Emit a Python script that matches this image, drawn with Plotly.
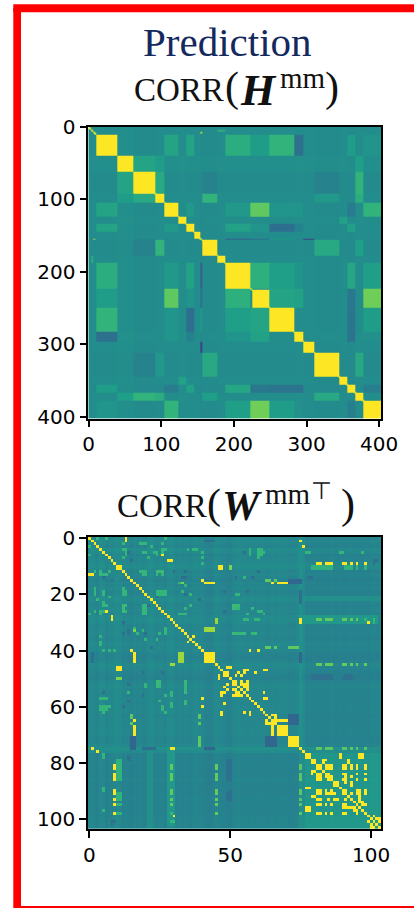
import numpy as np
import plotly.graph_objects as go

# ---------- Top panel: CORR(H^mm), block structure
H_SIZE = 403
H_BOUNDS = [0, 10, 40, 62, 92, 104, 124, 134, 145, 154, 156, 177, 188, 223, 249, 283, 296, 311, 345, 356, 367, 378, 403]
H_OFFSET = [0.0, 0.0, 0.01, -0.005, 0.0, 0.0, 0.005, 0.0, 0.0, -0.01, -0.005, 0.0, 0.0, 0.0, 0.0, 0.005, 0.0, -0.005, 0.0, -0.005, 0.005, 0.0]
H_PAIR_A = [1, 1, 1, 1, 1, 1, 1, 1,
            2, 2, 2,
            3, 3, 3, 3,
            4, 4, 4,
            5, 5, 5, 5, 5, 5, 5,
            6,
            7, 7, 7, 7, 7,
            9, 9, 9, 9,
            10, 10,
            12, 12, 12, 12, 12, 12,
            13, 13, 13, 13, 13,
            14, 14, 14,
            15, 15, 15,
            17,
            19, 19, 19, 19]
H_PAIR_B = [5, 7, 12, 13, 14, 15, 19, 21,
            3, 4, 20,
            4, 10, 17, 20,
            10, 17, 20,
            7, 12, 13, 14, 15, 19, 21,
            18,
            12, 13, 14, 15, 19,
            12, 13, 14, 16,
            17, 20,
            13, 14, 15, 19, 21, 7,
            14, 15, 19, 21, 7,
            19, 21, 7,
            19, 21, 7,
            20,
            21, 5, 13, 14]
H_PAIR_V = [0.58, 0.58, 0.62, 0.55, 0.65, 0.37, 0.55, 0.52,
            0.58, 0.55, 0.56,
            0.60, 0.45, 0.45, 0.65,
            0.65, 0.53, 0.62,
            0.53, 0.53, 0.75, 0.52, 0.52, 0.42, 0.65,
            0.57,
            0.56, 0.52, 0.37, 0.43, 0.57,
            0.30, 0.37, 0.53, 0.20,
            0.60, 0.56,
            0.63, 0.56, 0.52, 0.59, 0.56, 0.57,
            0.58, 0.57, 0.39, 0.78, 0.52,
            0.39, 0.55, 0.36,
            0.38, 0.50, 0.44,
            0.60,
            0.43, 0.42, 0.40, 0.39]
H_YELLOW_START = [10, 40, 62, 92, 104, 124, 134, 145, 156, 177, 188, 225, 249, 283, 296, 311, 345, 356, 367, 378]
H_YELLOW_END = [40, 62, 92, 104, 124, 134, 145, 154, 177, 188, 223, 249, 283, 296, 311, 345, 356, 367, 378, 403]
H_THIN_ROW = [4, 7, 154, 223]
H_THIN_ROW_END = [6, 9, 156, 225]
H_THIN_COL = [177, 154, 7, 241]
H_THIN_COL_END = [188, 156, 9, 244]
H_THIN_V = [0.62, 0.85, 0.85, 0.5]

# ---------- Bottom panel: CORR(W^mm T), rectangles and single cells
W_SIZE = 104
W_STRIPE = [0.0, 0.01, 0.0, -0.01, 0.02, 0.01, -0.01, 0.0, 0.0, 0.01, 0.02, 0.01, -0.01, 0.0, -0.01, -0.02, 0.0, -0.01, 0.0, -0.015,
            -0.01, 0.01, 0.015, 0.0, -0.01, 0.0, 0.0, -0.01, 0.01, 0.015, 0.005, -0.01, 0.0, -0.005, 0.0, -0.01, -0.01, 0.0, 0.005, 0.0,
            0.0, -0.015, -0.02, -0.02, -0.01, 0.01, 0.0, -0.005, -0.01, -0.02, -0.02, -0.005, 0.0, 0.01, 0.0, 0.0, -0.005, 0.0, 0.0, -0.005,
            0.0, 0.0, 0.0, -0.01, -0.005, 0.0, -0.005, 0.0, 0.0, 0.0, 0.0, -0.01, -0.01, -0.005, 0.0, 0.03, 0.015, 0.0, 0.0, 0.0,
            0.005, 0.0, 0.0, 0.0, 0.005, 0.0, 0.01, 0.0, 0.0, 0.005, 0.0, 0.0, 0.005, 0.005, 0.0, 0.005, 0.0, 0.0, 0.005, 0.0, 0.01, 0.01, 0.01, 0.01]
W_R0 = [0, 77, 21, 75,
        10, 41, 67, 71, 77, 87, 79, 81,
        15, 16, 32, 10, 10, 8, 6, 0, 13, 16, 29,
        10, 10, 10, 10, 29, 29, 28,
        15, 15, 15, 16, 16, 39, 39, 39, 1, 3,
        63, 65, 66, 65, 65, 71, 71, 71,
        79, 90, 49, 49, 1, 75, 75, 75, 75,
        77, 89, 96, 77, 93, 96,
        5, 20, 24, 34, 34, 4, 19, 19, 12, 13, 24, 26, 27, 34,
        77, 89]
W_R1 = [75, 104, 23, 76,
        12, 45, 71, 75, 79, 89, 81, 83,
        16, 17, 34, 12, 12, 9, 7, 1, 14, 17, 31,
        12, 12, 12, 12, 30, 30, 31,
        16, 16, 16, 17, 17, 40, 40, 40, 2, 4,
        65, 66, 67, 71, 66, 75, 75, 75,
        86, 94, 51, 51, 2, 76, 76, 76, 76,
        79, 90, 97, 79, 94, 97,
        6, 21, 26, 35, 35, 7, 21, 21, 13, 14, 26, 27, 28, 35,
        79, 90]
W_C0 = [77, 77, 75, 0,
        10, 41, 67, 71, 77, 87, 79, 81,
        40, 41, 41, 46, 50, 28, 26, 13, 0, 32, 45,
        79, 91, 95, 98, 100, 102, 75,
        63, 66, 71, 65, 67, 63, 66, 71, 75, 76,
        71, 71, 71, 65, 67, 63, 66, 15,
        50, 50, 79, 91, 41, 15, 19, 41, 29,
        89, 77, 77, 97, 87, 90,
        77, 52, 51, 51, 58, 60, 24, 12, 24, 19, 19, 19, 32, 55,
        5, 5]
W_C1 = [104, 104, 104, 104,
        12, 45, 71, 75, 79, 89, 81, 83,
        41, 45, 45, 48, 51, 30, 27, 14, 2, 34, 46,
        87, 94, 96, 99, 101, 103, 103,
        65, 67, 74, 66, 71, 65, 67, 75, 76, 77,
        75, 75, 75, 66, 71, 65, 67, 17,
        51, 51, 87, 94, 45, 17, 24, 45, 31,
        90, 79, 79, 98, 89, 94,
        79, 54, 54, 54, 60, 62, 28, 14, 27, 21, 21, 21, 34, 56,
        6, 6]
W_RV = [0.45, 0.52, 0.50, 0.50,
        1, 1, 1, 1, 1, 1, 1, 1,
        1, 1, 0.85, 1, 0.8, 1, 1, 1, 1, 0.8, 0.85,
        0.64, 0.64, 0.64, 0.64, 1, 0.75, 0.53,
        0.75, 0.75, 0.75, 1, 1, 0.75, 0.75, 0.75, 1, 1,
        0.33, 0.33, 0.33, 1, 1, 0.33, 0.33, 0.33,
        0.37, 0.37, 0.37, 0.37, 0.33, 0.33, 0.36, 0.33, 1,
        1, 1, 1, 1, 1, 1,
        0.66, 0.66, 0.68, 0.68, 0.68, 0.66, 0.66, 0.68, 0.68, 0.66, 0.66, 0.66, 0.66, 0.68, 0.68,
        0.65, 0.65]

# lattice of bright cells in the lower-right part and the rows that echo it
W_GROUP = [81, 82, 84, 85, 86, 90, 91, 93, 95, 98]
W_GAP_A = [84, 86, 93, 93, 84, 85, 85, 93, 85]
W_GAP_B = [86, 93, 95, 90, 93, 95, 98, 98, 90]
W_STUB_ROW = [83, 83, 92, 92]
W_STUB_COL = [79, 80, 79, 80]
W_ECHO_ROW = [9, 29, 45, 75]
W_ECHO_V = [1.0, 0.76, 0.76, 0.74]

# single bright off-diagonal cells: (row, col)
W_CELL_ROW = [35, 46, 47, 47, 47, 48, 48, 49, 49, 51, 51, 51, 52, 52, 53, 53, 54, 52, 49, 49, 40, 40, 62, 59, 62, 62, 57,
              63, 64, 63, 94, 94, 95, 100, 101, 100, 99, 90, 91, 87, 83, 84, 99]
W_CELL_COL = [37, 50, 63, 55, 56, 53, 55, 46, 48, 52, 54, 56, 54, 55, 55, 56, 56, 56, 52, 54, 57, 60, 47, 48, 55, 57, 63,
              65, 66, 66, 96, 97, 97, 102, 103, 103, 101, 95, 96, 91, 79, 79, 30]
# scattered mid-green cells: (row, col)
W_SOFT_ROW = [0, 0, 0, 2, 2, 3, 5, 5, 5, 12, 12, 12, 19, 24, 26, 26, 32, 35, 37, 40, 40, 40, 4, 4, 5, 5, 89, 5, 5, 5, 6, 12, 26, 26, 29, 29, 29, 29,
              13, 13, 13, 18, 19, 20, 19, 23, 21, 24, 26, 24, 25, 36, 34, 33, 36, 38, 17, 25, 4, 3, 55, 52, 53, 52, 53, 54, 58, 60, 62, 56, 58,
              77, 78, 101, 101, 98, 57, 57, 57, 60, 60]
W_SOFT_COL = [3, 6, 27, 18, 20, 22, 20, 24, 26, 2, 4, 7, 2, 6, 4, 13, 16, 4, 4, 5, 7, 9, 35, 38, 60, 61, 5, 90, 97, 62, 60, 19, 60, 61, 55, 56, 59, 60,
              4, 5, 6, 12, 12, 12, 5, 5, 7, 13, 2, 19, 20, 24, 27, 19, 20, 4, 34, 34, 27, 22, 14, 25, 25, 34, 34, 34, 34, 26, 27, 27, 25,
              5, 5, 29, 30, 29, 4, 5, 6, 6, 7]
# scattered dark cells: (row, col)
W_DARK_ROW = [5, 33, 41, 42, 43, 44, 39, 20, 21, 34, 34, 19, 26, 52, 58, 55, 56, 101, 102, 101, 78, 79, 30, 60, 15]
W_DARK_COL = [14, 14, 1, 1, 1, 1, 22, 34, 24, 12, 14, 48, 48, 14, 14, 5, 19, 8, 8, 9, 14, 14, 12, 12, 8]

# ---------- Axis tick labels and texts
H_TICKS = [0, 100, 200, 300, 400]
W_XTICKS = [0, 50, 100]
W_YTICKS = [0, 20, 40, 60, 80, 100]
TITLE = "Prediction"

# ---------- Assemble the two matrices from the lists above
h = np.full((H_SIZE, H_SIZE), 0.485)
n_blocks = len(H_BOUNDS) - 1
for a in range(n_blocks):
    for b in range(n_blocks):
        h[H_BOUNDS[a]:H_BOUNDS[a + 1], H_BOUNDS[b]:H_BOUNDS[b + 1]] += H_OFFSET[a] + H_OFFSET[b]
for a, b, v in zip(H_PAIR_A, H_PAIR_B, H_PAIR_V):
    h[H_BOUNDS[a]:H_BOUNDS[a + 1], H_BOUNDS[b]:H_BOUNDS[b + 1]] = v
    h[H_BOUNDS[b]:H_BOUNDS[b + 1], H_BOUNDS[a]:H_BOUNDS[a + 1]] = v
for r0, r1, c0, c1, v in zip(H_THIN_ROW, H_THIN_ROW_END, H_THIN_COL, H_THIN_COL_END, H_THIN_V):
    h[r0:r1, c0:c1] = v
    h[c0:c1, r0:r1] = v
for s, e in zip(H_YELLOW_START, H_YELLOW_END):
    h[s:e, s:e] = 1.0
for i in range(H_SIZE):
    h[i, i] = 1.0
    if i < H_SIZE - 1:
        h[i, i + 1] = h[i + 1, i] = max(h[i, i + 1], 0.9)

w = 0.47 + np.add.outer(np.array(W_STRIPE), np.array(W_STRIPE))
for r0, r1, c0, c1, v in zip(W_R0, W_R1, W_C0, W_C1, W_RV):
    if r0 == 77 and r1 == 104 and v < 0.6:
        w[r0:r1, c0:c1] += v - 0.47
        continue
    if v < 0.6 and r1 - r0 > 20:
        w[r0:r1, c0:c1] += v - 0.47
        w[c0:c1, r0:r1] += v - 0.47
        continue
    w[r0:r1, c0:c1] = v
    w[c0:c1, r0:r1] = v
for r, c in zip(W_DARK_ROW, W_DARK_COL):
    w[r, c] = w[c, r] = 0.36
for g1 in W_GROUP:
    for g2 in W_GROUP:
        w[g1, g2] = 1.0
for a, b in zip(W_GAP_A, W_GAP_B):
    w[a, b] = w[b, a] = 0.52
for r, c in zip(W_STUB_ROW, W_STUB_COL):
    w[r, c] = w[c, r] = 1.0
for row, v in zip(W_ECHO_ROW, W_ECHO_V):
    for g in W_GROUP:
        w[row, g] = w[g, row] = v
for r, c in zip(W_SOFT_ROW, W_SOFT_COL):
    w[r, c] = w[c, r] = 0.66
for r, c in zip(W_CELL_ROW, W_CELL_COL):
    w[r, c] = w[c, r] = 1.0
for i in range(W_SIZE):
    w[i, i] = 1.0

# ---------- Figure
W, H = 414, 908
PANEL_TOP = dict(x0=88.3, x1=381.0, y0=126.7, y1=418.5)
PANEL_BOT = dict(x0=88.0, x1=381.0, y0=536.7, y1=829.0)

fig = go.Figure()
fig.add_trace(go.Heatmap(z=h, colorscale="Viridis", zmin=0, zmax=1, showscale=False,
                         hoverinfo="skip", zsmooth="best", xaxis="x", yaxis="y",
                         x=list(range(H_SIZE)), y=list(range(H_SIZE))))
fig.add_trace(go.Heatmap(z=w, colorscale="Viridis", zmin=0, zmax=1, showscale=False,
                         hoverinfo="skip", zsmooth=False, xaxis="x2", yaxis="y2",
                         x=list(range(W_SIZE)), y=list(range(W_SIZE))))

def axis(ticks, rng, dom, anchor):
    return dict(domain=dom, range=rng, tickmode="array", tickvals=ticks, ticktext=[str(t) for t in ticks],
                ticks="outside", ticklen=7, tickwidth=1.6, tickcolor="black", showline=True, linecolor="black",
                linewidth=1.6, mirror=True, showgrid=False, zeroline=False, anchor=anchor, automargin=False,
                tickfont=dict(family="DejaVu Sans", size=20, color="black"))

def xd(p):
    return [p["x0"] / W, p["x1"] / W]

def yd(p):
    return [1 - p["y1"] / H, 1 - p["y0"] / H]

fig.update_layout(
    width=W, height=H, autosize=False, margin=dict(l=0, r=0, t=0, b=0, autoexpand=False),
    paper_bgcolor="white", plot_bgcolor="white", showlegend=False,
    xaxis=axis(H_TICKS, [-0.5, H_SIZE - 0.5], xd(PANEL_TOP), "y"),
    yaxis=axis(H_TICKS, [H_SIZE - 0.5, -0.5], yd(PANEL_TOP), "x"),
    xaxis2=axis(W_XTICKS, [-0.5, W_SIZE - 0.5], xd(PANEL_BOT), "y2"),
    yaxis2=axis(W_YTICKS, [W_SIZE - 0.5, -0.5], yd(PANEL_BOT), "x2"),
)

RED = "#ff0000"
frame = [(13.3, 21, 8, 908), (13.3, 414, 4.2, 12.3), (21, 414, 906, 908)]
for x0, x1, y0, y1 in frame:
    fig.add_shape(type="rect", xref="paper", yref="paper", x0=x0 / W, x1=x1 / W,
                  y0=1 - y0 / H, y1=1 - y1 / H, fillcolor=RED, line_width=0, layer="above")

SERIF = "Liberation Serif"
def label(text, x, y, size, color="#111111", anchor="left"):
    fig.add_annotation(text=text, xref="paper", yref="paper", x=x / W, y=1 - y / H, xanchor=anchor, yanchor="middle",
                       showarrow=False, font=dict(family=SERIF, size=size, color=color))

label(TITLE, 227.5, 42, 41, "#14295e", "center")
label("CORR", 132, 90, 33)
label("(", 223, 88, 42)
label("<b><i>H</i></b>", 238, 90, 44)
label("mm", 278, 78, 29)
label(")", 323, 88, 42)
label("CORR", 115, 506, 33)
label("(", 205, 504, 42)
label("<b><i>W</i></b>", 220, 506, 42)
label("mm", 263, 494, 29)
label("⊤", 309, 491, 24)
label(")", 339, 504, 42)

fig.write_html("out.html", config={"displayModeBar": False},
               post_script="document.body.style.margin='0';document.documentElement.style.overflow='hidden';")
